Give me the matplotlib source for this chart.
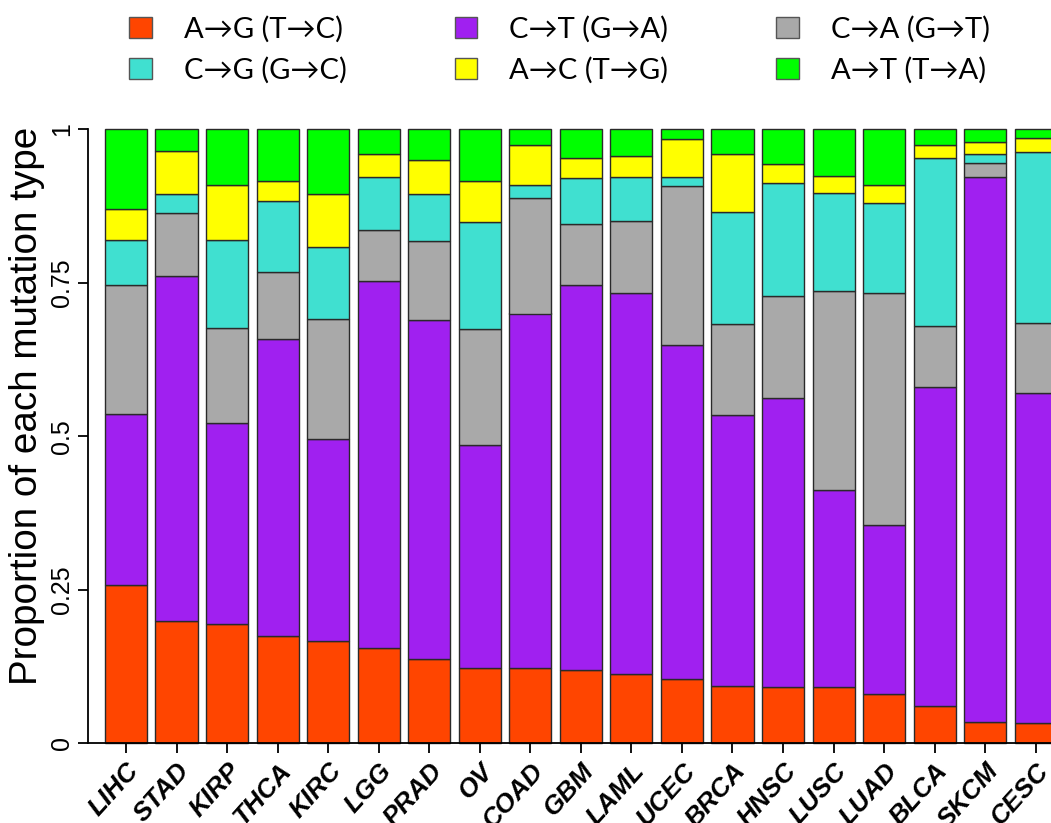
import matplotlib
matplotlib.use("Agg")
import matplotlib.pyplot as plt
import numpy as np
from matplotlib.patches import Patch

plt.rcParams.update({
    "font.family": ["Liberation Sans", "DejaVu Sans"],
    "axes.unicode_minus": False,
})

# --- Data ---
cancers = ["LIHC", "STAD", "KIRP", "THCA", "KIRC", "LGG", "PRAD", "OV", "COAD",
           "GBM", "LAML", "UCEC", "BRCA", "HNSC", "LUSC", "LUAD", "BLCA", "SKCM", "CESC"]

a_to_g = [0.258, 0.200, 0.194, 0.174, 0.167, 0.155, 0.138, 0.123, 0.122, 0.119,
          0.113, 0.105, 0.093, 0.092, 0.091, 0.081, 0.061, 0.035, 0.033]
c_to_t = [0.278, 0.561, 0.327, 0.484, 0.329, 0.598, 0.551, 0.363, 0.578, 0.627,
          0.620, 0.544, 0.441, 0.470, 0.321, 0.275, 0.520, 0.887, 0.538]
c_to_a = [0.211, 0.102, 0.155, 0.109, 0.195, 0.083, 0.129, 0.188, 0.188, 0.099,
          0.117, 0.258, 0.149, 0.167, 0.325, 0.377, 0.098, 0.023, 0.114]
c_to_g = [0.072, 0.031, 0.144, 0.116, 0.117, 0.086, 0.077, 0.175, 0.021, 0.075,
          0.072, 0.015, 0.183, 0.184, 0.159, 0.147, 0.275, 0.015, 0.278]
a_to_c = [0.052, 0.070, 0.089, 0.033, 0.086, 0.037, 0.055, 0.066, 0.065, 0.034,
          0.035, 0.063, 0.094, 0.030, 0.028, 0.030, 0.020, 0.019, 0.023]
a_to_t = [0.129, 0.036, 0.091, 0.084, 0.106, 0.041, 0.050, 0.085, 0.026, 0.046,
          0.043, 0.015, 0.040, 0.057, 0.076, 0.090, 0.026, 0.021, 0.014]

series = [a_to_g, c_to_t, c_to_a, c_to_g, a_to_c, a_to_t]
labels = ["A→G (T→C)", "C→T (G→A)", "C→A (G→T)",
          "C→G (G→C)", "A→C (T→G)", "A→T (T→A)"]
colors = ["#FF4500", "#A020F0", "#A9A9A9", "#40E0D0", "#FFFF00", "#00FF00"]

# --- Plot ---
W, H = 1051, 823
fig = plt.figure(figsize=(W / 100, H / 100), dpi=100)
fig.set_facecolor("white")

ax_left, ax_bottom = 88 / W, (H - 743.3) / H
ax = fig.add_axes([ax_left, ax_bottom, 1 - ax_left, (743.3 - 129.3) / H])

x = np.arange(len(cancers))
bottom = np.zeros(len(cancers))
for vals, col in zip(series, colors):
    vals = np.array(vals)
    ax.bar(x, vals, bottom=bottom, width=0.833, color=col,
           edgecolor="#2a2a2a", linewidth=1.0, clip_on=False)
    bottom += vals

pitch = 50.54
ax.set_xlim((88 - 126) / pitch, (W - 126) / pitch)
ax.set_ylim(0, 1)

ax.set_yticks([0, 0.25, 0.5, 0.75, 1])
ax.set_yticklabels(["0", "0.25", "0.5", "0.75", "1"], rotation=90,
                   va="center", fontsize=18)
ax.set_ylabel("Proportion of each mutation type", fontsize=27.8)
ax.yaxis.set_label_coords(-0.045, 0.55)

ax.set_xticks(x)
ax.set_xticklabels(cancers, rotation=48, ha="right", va="top",
                   rotation_mode="anchor", fontsize=19,
                   fontweight="bold", fontstyle="italic")

ax.tick_params(axis="both", direction="out", length=7, width=1.3, color="black")
ax.tick_params(axis="y", pad=3)
ax.tick_params(axis="x", pad=4)

ax.spines["top"].set_visible(False)
ax.spines["right"].set_visible(False)
ax.spines["left"].set_bounds(0, 1)
ax.spines["left"].set_linewidth(1.3)
ax.spines["bottom"].set_linewidth(1.3)

# Legend: three columns, two rows (R-style row filling)
order = [0, 3, 1, 4, 2, 5]
handles = [Patch(facecolor=colors[i], edgecolor="#555555", linewidth=1.0,
                 label=labels[i]) for i in order]
fig.legend(handles=handles, loc="upper left",
           bbox_to_anchor=(129 / W, 1 - 16 / H), ncol=3, frameon=False,
           prop={"family": ["Lato"], "size": 21},
           handlelength=0.78, handleheight=0.7,
           handletextpad=1.1, columnspacing=3.7, labelspacing=0.48,
           borderpad=0, borderaxespad=0)

fig.savefig("out.png", dpi=100, facecolor="white")
